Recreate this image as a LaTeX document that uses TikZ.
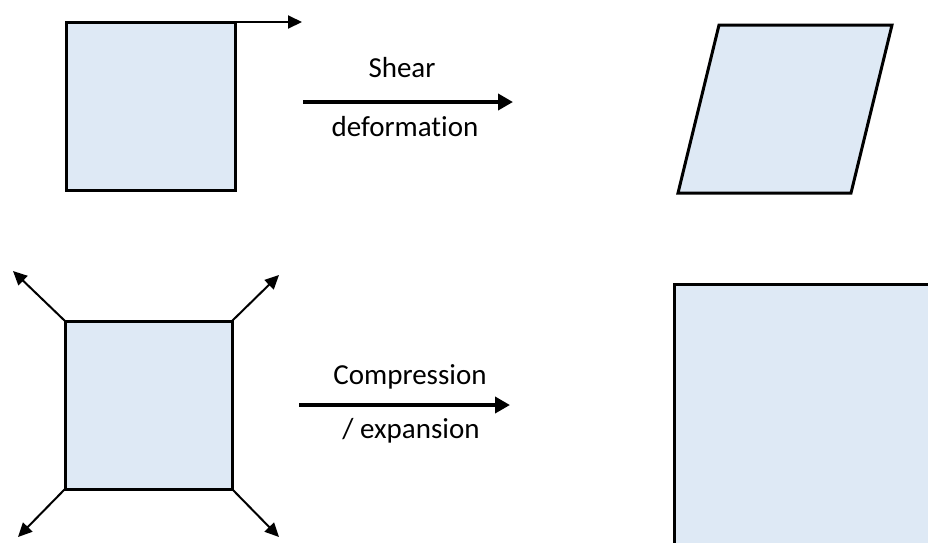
\documentclass[tikz,border=0pt]{standalone}
\usepackage{fontspec}
\setmainfont[Ligatures=NoCommon]{Carlito}
\usetikzlibrary{arrows.meta}
\definecolor{boxfill}{RGB}{222,233,245}
\tikzset{
  shape box/.style={draw=black, fill=boxfill, line width=3pt, inner sep=0pt, outer sep=0pt, line join=miter},
  thin arrow/.style={line width=2pt, -{Triangle[length=14pt,width=13pt]}},
  main arrow/.style={line width=4pt, -{Triangle[length=15pt,width=16pt]}},
  label/.style={font=\fontsize{29}{35}\selectfont, anchor=base, inner sep=0pt},
}
\begin{document}
\begin{tikzpicture}[x=1pt,y=-1pt]
\useasboundingbox (0,0) rectangle (928,542);
\clip (0,0) rectangle (928,542);
% top-left square
\node[shape box, minimum width=169pt, minimum height=168pt] (sq1) at (150.5,106) {};
\coordinate (t1) at (302,22);
\draw[thin arrow] (sq1.north east) -- (t1);
% shear arrow
\coordinate (s1) at (303,102);
\coordinate (s2) at (513,102);
\draw[main arrow] (s1) -- (s2);
\node[label] (shear) at (402,77) {Shear};
\node[label] (deform) at (405,136) {deformation};
% parallelogram
\draw[shape box] (719,25) coordinate (p1) -- (892,25) coordinate (p2) -- (851,193) coordinate (p3) -- (678,193) coordinate (p4) -- cycle;
% bottom-left square
\node[shape box, minimum width=167pt, minimum height=168pt] (sq2) at (148.5,405) {};
\coordinate (c1) at (13,271);
\coordinate (c2) at (279,275);
\coordinate (c3) at (18,537);
\coordinate (c4) at (279,537);
\draw[thin arrow] (sq2.north west) -- (c1);
\draw[thin arrow] (sq2.north east) -- (c2);
\draw[thin arrow] (sq2.south west) -- (c3);
\draw[thin arrow] (sq2.south east) -- (c4);
% compression arrow
\coordinate (m1) at (299,405);
\coordinate (m2) at (510,405);
\draw[main arrow] (m1) -- (m2);
\node[label] (comp) at (410,384) {Compression};
\node[label] (exp) at (411,438) {/ expansion};
% big square (cropped)
\draw[shape box] (674,284) rectangle (945,560);
\end{tikzpicture}
\end{document}
